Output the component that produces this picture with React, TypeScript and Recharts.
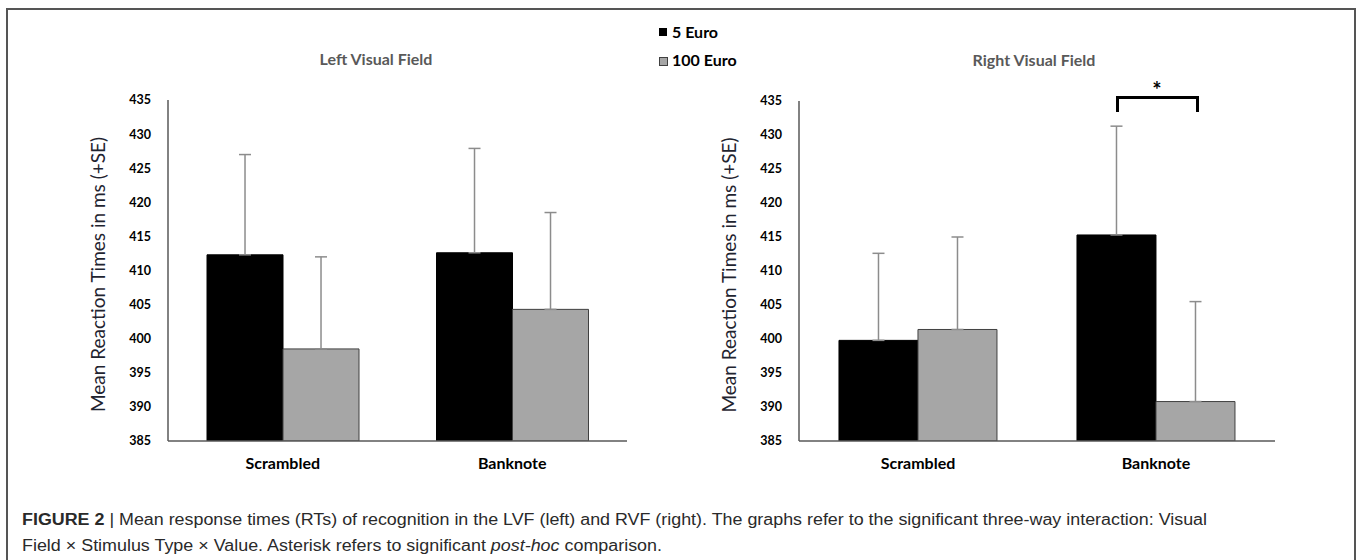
import React from 'react';
import { BarChart, Bar, XAxis, YAxis, ErrorBar, Label } from 'recharts';

const categories = ['Scrambled', 'Banknote'];
const lvf5 = [412.3, 412.6];
const lvf5Se = [14.7, 15.3];
const lvf100 = [398.5, 404.3];
const lvf100Se = [13.5, 14.2];
const rvf5 = [399.8, 415.3];
const rvf5Se = [12.8, 16.0];
const rvf100 = [401.4, 390.8];
const rvf100Se = [13.6, 14.7];
const yTicks = [385, 390, 395, 400, 405, 410, 415, 420, 425, 430, 435];
const seriesNames = ['5 Euro', '100 Euro'];

const FONT = 'Lato, "Open Sans", sans-serif';

const build = (a: number[], ae: number[], b: number[], be: number[]) =>
  categories.map((c, i) => ({ cat: c, v5: a[i], e5: [0, ae[i]], v100: b[i], e100: [0, be[i]] }));

const leftData = build(lvf5, lvf5Se, lvf100, lvf100Se);
const rightData = build(rvf5, rvf5Se, rvf100, rvf100Se);

const yLabel = 'Mean Reaction Times in ms (+SE)';

const YLabelContent = (props: any) => {
  const vb = props.viewBox || {};
  const x = vb.x - 11;
  const y = vb.y + vb.height / 2 + 4;
  return (
    <text
      x={x}
      y={y}
      transform={`rotate(-90 ${x} ${y})`}
      textAnchor="middle"
      dominantBaseline="central"
      fontFamily={FONT}
      fontSize={19}
      fill="#1f2430"
    >
      {yLabel}
    </text>
  );
};

const Panel = ({ data, width, margin, gap }: any) => (
  <BarChart width={width} height={490} data={data} margin={margin} barGap={0} barCategoryGap={gap}>
    <XAxis
      dataKey="cat"
      axisLine={{ stroke: '#595959', strokeWidth: 1.5 }}
      tickLine={false}
      tickMargin={11}
      height={30}
      tick={{ fontFamily: FONT, fontSize: 16, fontWeight: 700, fill: '#000' }}
    />
    <YAxis
      domain={[385, 435]}
      ticks={yTicks}
      interval={0}
      width={60}
      axisLine={{ stroke: '#595959', strokeWidth: 1.5 }}
      tickLine={false}
      tickMargin={11}
      allowDataOverflow
      tick={{ fontFamily: FONT, fontSize: 12.5, fontWeight: 700, fill: '#000' }}
    >
      <Label content={<YLabelContent />} />
    </YAxis>
    <Bar dataKey="v5" name={seriesNames[0]} fill="#000" stroke="#000" strokeWidth={1} isAnimationActive={false}>
      <ErrorBar dataKey="e5" direction="y" width={6} stroke="#8c8c8c" strokeWidth={1.5} />
    </Bar>
    <Bar dataKey="v100" name={seriesNames[1]} fill="#a6a6a6" stroke="#404040" strokeWidth={1} isAnimationActive={false}>
      <ErrorBar dataKey="e100" direction="y" width={6} stroke="#8c8c8c" strokeWidth={1.5} />
    </Bar>
  </BarChart>
);

export default function App() {
  return (
    <div style={{ position: 'absolute', left: 0, top: 0, width: 1358, height: 560, overflow: 'hidden', background: '#fff' }}>
      <div style={{ position: 'absolute', left: 6, top: 8, width: 1346, height: 600, border: '2px solid #555' }} />
      <div style={{ position: 'absolute', left: 0, top: 0 }}>
        <Panel data={leftData} width={700} gap="17%" margin={{ top: 100, right: 73, left: 108, bottom: 19 }} />
      </div>
      <div style={{ position: 'absolute', left: 680, top: 0 }}>
        <Panel data={rightData} width={640} gap="16.8%" margin={{ top: 101, right: 45, left: 59, bottom: 19 }} />
      </div>
      <svg width={1358} height={560} style={{ position: 'absolute', left: 0, top: 0, pointerEvents: 'none' }}>
        <text x={376} y={65} textAnchor="middle" fontFamily={FONT} fontSize={16} fontWeight={700} fill="#595959">Left Visual Field</text>
        <text x={1034} y={66} textAnchor="middle" fontFamily={FONT} fontSize={16} fontWeight={700} fill="#595959">Right Visual Field</text>
        <rect x={659} y={28} width={8} height={8} fill="#000" />
        <text x={672} y={38} fontFamily={FONT} fontSize={16} fontWeight={700} fill="#000">{seriesNames[0]}</text>
        <rect x={659.5} y={57.5} width={8} height={8} fill="#a6a6a6" stroke="#404040" strokeWidth={1} />
        <text x={672} y={66} fontFamily={FONT} fontSize={16} fontWeight={700} fill="#000">{seriesNames[1]}</text>
        <path d="M1117.5 112 V97.5 H1197.5 V112" fill="none" stroke="#000" strokeWidth={3} />
        <text x={1157} y={98} textAnchor="middle" fontFamily={FONT} fontSize={22} fontWeight={700} fill="#000">*</text>
        <text x={22} y={525} textLength={1185} lengthAdjust="spacingAndGlyphs" fontFamily='"Liberation Sans", Arial, sans-serif' fontSize={16} fill="#2a2a2a">
          <tspan fontWeight={700}>FIGURE 2</tspan>
          <tspan> | Mean response times (RTs) of recognition in the LVF (left) and RVF (right). The graphs refer to the significant three-way interaction: Visual</tspan>
        </text>
        <text x={22} y={551} textLength={640} lengthAdjust="spacingAndGlyphs" fontFamily='"Liberation Sans", Arial, sans-serif' fontSize={16} fill="#2a2a2a">
          <tspan>Field × Stimulus Type × Value. Asterisk refers to significant </tspan>
          <tspan fontStyle="italic">post-hoc</tspan>
          <tspan> comparison.</tspan>
        </text>
      </svg>
    </div>
  );
}
